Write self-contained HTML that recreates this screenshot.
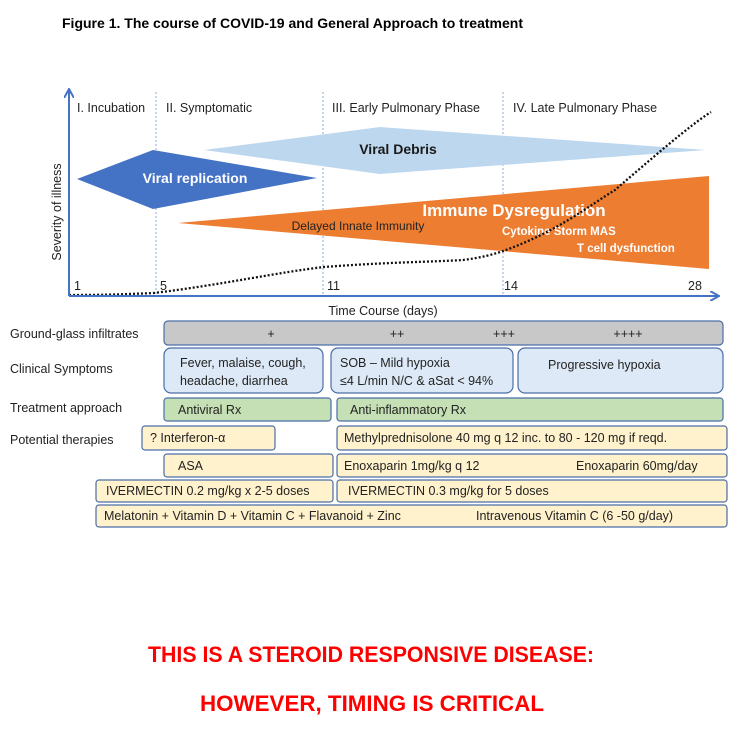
<!DOCTYPE html>
<html><head><meta charset="utf-8"><style>
html,body{margin:0;padding:0;background:#fff;}
svg{display:block;font-family:"Liberation Sans",sans-serif;}
</style></head><body>
<svg width="743" height="751" viewBox="0 0 743 751" xmlns="http://www.w3.org/2000/svg">
<defs><marker id="ah" markerWidth="10" markerHeight="10" refX="8" refY="5" orient="auto" markerUnits="userSpaceOnUse"><path d="M0,0 L9,5 L0,10" fill="none" stroke="#4472c4" stroke-width="2"/></marker></defs>
<text x="62" y="28" font-size="13.5" font-weight="bold" textLength="461" lengthAdjust="spacingAndGlyphs">Figure 1.  The course of COVID-19 and General Approach to treatment</text>

<g stroke="#8fa9d6" stroke-width="1" stroke-dasharray="2,2">
<line x1="156" y1="92" x2="156" y2="296"/><line x1="323" y1="92" x2="323" y2="296"/><line x1="503" y1="92" x2="503" y2="296"/>
</g>
<g font-size="12.5" fill="#222">
<text x="77" y="112">I. Incubation</text><text x="166" y="112">II. Symptomatic</text>
<text x="332" y="112">III. Early Pulmonary Phase</text><text x="513" y="112">IV. Late Pulmonary Phase</text>
</g>

<polygon points="204,150 380,127 706,150 380,174" fill="#bdd7ee"/>
<text x="398" y="154" font-size="14" font-weight="bold" text-anchor="middle" fill="#1a1a1a">Viral Debris</text>
<polygon points="77,179 153,150 317,178 153,209" fill="#4472c4"/>
<text x="195" y="183" font-size="14" font-weight="bold" text-anchor="middle" fill="#fff">Viral replication</text>
<polygon points="178,223 709,176 709,269" fill="#ed7d31"/>
<text x="514" y="216" font-size="17" font-weight="bold" text-anchor="middle" fill="#fff">Immune Dysregulation</text>
<text x="358" y="230" font-size="12" text-anchor="middle" fill="#222">Delayed Innate Immunity</text>
<text x="502" y="235" font-size="11.5" font-weight="bold" fill="#fff">Cytokine Storm   MAS</text>
<text x="577" y="252" font-size="11.5" font-weight="bold" fill="#fff">T cell dysfunction</text>

<path d="M69,295 C110,295 130,294 154,293 C220,285 280,272 324,267 C390,262 430,262 463,260 C480,258 495,254 506,250 C560,230 590,205 615,190 C650,160 690,125 711,112" fill="none" stroke="#111" stroke-width="2.3" stroke-dasharray="2,2"/>

<line x1="69" y1="296" x2="69" y2="90" stroke="#4472c4" stroke-width="2" marker-end="url(#ah)"/>
<line x1="69" y1="296" x2="718" y2="296" stroke="#4472c4" stroke-width="2" marker-end="url(#ah)"/>
<text transform="translate(61,212) rotate(-90)" font-size="12.5" text-anchor="middle" fill="#222">Severity of illness</text>
<g font-size="12.5" fill="#222"><text x="74" y="290">1</text><text x="160" y="290">5</text><text x="327" y="290">11</text><text x="504" y="290">14</text><text x="688" y="290">28</text></g>
<text x="383" y="315" font-size="12.5" text-anchor="middle" fill="#222">Time Course (days)</text>

<g font-size="12.5" fill="#222">
<text x="10" y="338">Ground-glass infiltrates</text><text x="10" y="373">Clinical Symptoms</text>
<text x="10" y="412">Treatment approach</text><text x="10" y="444">Potential therapies</text>
</g>
<g stroke="#4a6ea8" stroke-width="1.2">
<rect x="164" y="321" width="559" height="24" rx="4" fill="#c8c8c8"/>
<rect x="164" y="348" width="159" height="45" rx="7" fill="#dde9f6"/>
<rect x="331" y="348" width="182" height="45" rx="7" fill="#dde9f6"/>
<rect x="518" y="348" width="205" height="45" rx="7" fill="#dde9f6"/>
<rect x="164" y="398" width="167" height="23" rx="3" fill="#c5e0b4"/>
<rect x="337" y="398" width="386" height="23" rx="3" fill="#c5e0b4"/>
<rect x="142" y="426" width="133" height="24" rx="3" fill="#fff2cc"/>
<rect x="337" y="426" width="390" height="24" rx="3" fill="#fff2cc"/>
<rect x="164" y="454" width="169" height="23" rx="3" fill="#fff2cc"/>
<rect x="337" y="454" width="390" height="23" rx="3" fill="#fff2cc"/>
<rect x="96" y="480" width="237" height="22" rx="3" fill="#fff2cc"/>
<rect x="337" y="480" width="390" height="22" rx="3" fill="#fff2cc"/>
<rect x="96" y="505" width="631" height="22" rx="3" fill="#fff2cc"/>
</g>
<g font-size="12.5" fill="#222">
<text x="271" y="338" text-anchor="middle">+</text><text x="397" y="338" text-anchor="middle">++</text>
<text x="504" y="338" text-anchor="middle">+++</text><text x="628" y="338" text-anchor="middle">++++</text>
<text x="180" y="367">Fever, malaise, cough,</text><text x="180" y="385">headache, diarrhea</text>
<text x="340" y="367">SOB – Mild hypoxia</text><text x="340" y="385">≤4 L/min N/C &amp; aSat &lt; 94%</text>
<text x="548" y="369">Progressive hypoxia</text>
<text x="178" y="414">Antiviral Rx</text><text x="350" y="414">Anti-inflammatory Rx</text>
<text x="150" y="442">? Interferon-α</text><text x="344" y="442">Methylprednisolone 40 mg q 12 inc. to 80 - 120 mg if reqd.</text>
<text x="178" y="470">ASA</text><text x="344" y="470">Enoxaparin 1mg/kg q 12</text><text x="576" y="470">Enoxaparin 60mg/day</text>
<text x="106" y="495">IVERMECTIN 0.2 mg/kg x 2-5 doses</text><text x="348" y="495">IVERMECTIN   0.3 mg/kg for 5 doses</text>
<text x="104" y="520">Melatonin + Vitamin D + Vitamin C + Flavanoid + Zinc</text><text x="476" y="520">Intravenous Vitamin C (6 -50 g/day)</text>
</g>

<text x="148" y="662" font-size="22" font-weight="bold" fill="#ff0000" textLength="446" lengthAdjust="spacingAndGlyphs">THIS IS A STEROID RESPONSIVE DISEASE:</text>
<text x="200" y="711" font-size="22" font-weight="bold" fill="#ff0000" textLength="344" lengthAdjust="spacingAndGlyphs">HOWEVER, TIMING IS CRITICAL</text>
</svg>
</body></html>
